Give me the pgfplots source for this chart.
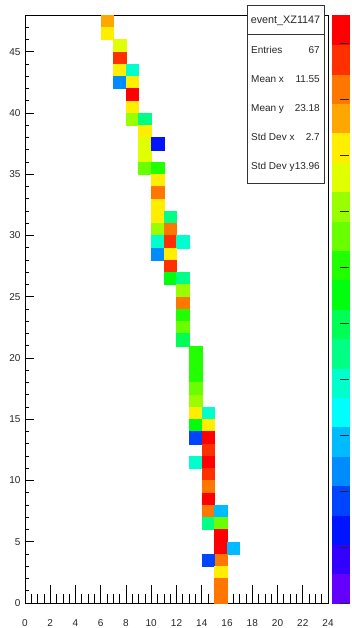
\documentclass[border=0pt]{standalone}
\usepackage{fontspec}
\setmainfont{Liberation Sans}
\usepackage{pgfplots}
\usepackage{pgfplotstable}
\pgfplotsset{compat=1.18}
\pgfdeclareplotmark{bin}{\pgfpathrectangle{\pgfqpoint{-6.3125bp}{-6.125bp}}{\pgfqpoint{12.625bp}{12.25bp}}\pgfusepathqfillstroke}
\pgfdeclareplotmark{band}{\pgfpathrectangle{\pgfqpoint{-8.5bp}{-14.7bp}}{\pgfqpoint{17bp}{29.4bp}}\pgfusepathqfillstroke}
\pgfplotsset{
  colormap={rootpal}{rgb255=(99,0,255) rgb255=(51,0,255) rgb255=(0,20,255) rgb255=(0,68,255) rgb255=(0,139,255) rgb255=(0,187,255) rgb255=(0,255,252) rgb255=(0,255,204) rgb255=(0,255,133) rgb255=(0,255,85) rgb255=(0,255,14) rgb255=(34,255,0) rgb255=(105,255,0) rgb255=(153,255,0) rgb255=(224,255,0) rgb255=(255,238,0) rgb255=(255,167,0) rgb255=(255,119,0) rgb255=(255,48,0) rgb255=(255,0,0)},
}
% bin centre x, bin centre y, colour level k (0 = violet ... 19 = red)
\pgfplotstableread{
x y k
6.5 47.5 16
6.5 46.5 15
7.5 45.5 14
7.5 44.5 18
7.5 43.5 15
8.5 43.5 7
7.5 42.5 4
8.5 42.5 15
8.5 41.5 19
8.5 40.5 15
8.5 39.5 13
9.5 39.5 8
9.5 38.5 15
9.5 37.5 14
9.5 36.5 14
10.5 37.5 2
9.5 35.5 12
10.5 35.5 11
10.5 34.5 15
10.5 33.5 17
10.5 32.5 15
10.5 31.5 15
11.5 31.5 8
10.5 30.5 13
11.5 30.5 17
10.5 29.5 7
11.5 29.5 18
12.5 29.5 7
10.5 28.5 4
11.5 28.5 15
11.5 27.5 18
11.5 26.5 10
12.5 26.5 8
12.5 25.5 13
12.5 24.5 17
12.5 23.5 11
12.5 22.5 12
12.5 21.5 9
13.5 20.5 11
13.5 19.5 11
13.5 18.5 11
13.5 17.5 12
13.5 16.5 13
13.5 15.5 15
14.5 15.5 7
13.5 14.5 10
14.5 14.5 15
13.5 13.5 3
14.5 13.5 19
14.5 12.5 18
13.5 11.5 7
14.5 11.5 19
14.5 10.5 18
14.5 9.5 17
14.5 8.5 19
14.5 7.5 17
15.5 7.5 5
14.5 6.5 8
15.5 6.5 12
15.5 5.5 19
15.5 4.5 19
16.5 4.5 5
15.5 3.5 17
14.5 3.5 3
15.5 2.5 15
15.5 1.5 17
15.5 0.5 17
}\bins
% palette bands: centre z, level k
\pgfplotstableread{
z k
0.2625 0
0.7875 1
1.3125 2
1.8375 3
2.3625 4
2.8875 5
3.4125 6
3.9375 7
4.4625 8
4.9875 9
5.5125 10
6.0375 11
6.5625 12
7.0875 13
7.6125 14
8.1375 15
8.6625 16
9.1875 17
9.7125 18
10.2375 19
}\palette
\begin{document}
\begin{tikzpicture}
\useasboundingbox (-25bp,-25bp) rectangle (327bp,603bp);
% main frame, x ticks, bins
\begin{axis}[
  at={(0,0)}, anchor=south west,
  x=12.625bp, y=12.25bp,
  xmin=0, xmax=24, ymin=0, ymax=48,
  axis line style={black, line width=0.8bp},
  tick pos=left, tick align=inside,
  xtick={0,2,...,24}, minor xtick={0,0.5,...,24},
  ytick=\empty,
  major tick length=17.6bp, minor tick length=8.8bp,
  tick style={black, line width=0.7bp},
  /pgf/number format/assume math mode=true,
  xticklabel style={font=\fontsize{10bp}{12bp}\selectfont, anchor=base, yshift=-23.6bp, text=black!85},
  colormap name=rootpal, point meta min=0, point meta max=19,
]
\addplot[scatter, only marks, mark=bin, mark options={line width=0.3bp},
  point meta=explicit,
  scatter/use mapped color={draw=mapped color, fill=mapped color}]
  table[x=x, y=y, meta=k] {\bins};
\end{axis}
% y ticks (shorter, as ROOT scales tick length to the frame)
\begin{axis}[
  at={(0,0)}, anchor=south west,
  x=12.625bp, y=12.25bp,
  xmin=0, xmax=24, ymin=0, ymax=48,
  axis line style={draw=none},
  tick pos=left, tick align=inside,
  xtick=\empty,
  ytick={0,5,...,45}, minor ytick={0,1,...,48},
  major tick length=9bp, minor tick length=4.5bp,
  tick style={black, line width=0.7bp},
  /pgf/number format/assume math mode=true,
  yticklabel style={font=\fontsize{10bp}{12bp}\selectfont, xshift=-1bp, text=black!85},
]
\addplot[draw=none] coordinates {(0,0)};
\end{axis}
% palette bands
\begin{axis}[
  at={(307bp,0)}, anchor=south west,
  x=17bp, y=56bp,
  xmin=0, xmax=1, ymin=0, ymax=10.5,
  axis line style={draw=none},
  xtick=\empty, ytick=\empty,
  colormap name=rootpal, point meta min=0, point meta max=19,
]
\addplot[scatter, only marks, mark=band, mark options={line width=0.2bp},
  point meta=explicit,
  scatter/use mapped color={draw=mapped color, fill=mapped color}]
  table[x expr=0.5, y=z, meta=k] {\palette};
\end{axis}
% palette ticks on top
\begin{axis}[
  at={(307bp,0)}, anchor=south west,
  x=17bp, y=56bp,
  xmin=0, xmax=1, ymin=0, ymax=10.5,
  axis line style={draw=none},
  xtick=\empty,
  ytick={0,1,...,10}, yticklabels={},
  ytick pos=right, tick align=inside,
  major tick length=9bp,
  tick style={black!85, line width=0.8bp},
]
\addplot[draw=none] coordinates {(0,0)};
\end{axis}
% statistics box
\draw[fill=white, draw=black!80, line width=0.8bp] (222bp,420bp) rectangle (299bp,598bp);
\draw[draw=black!80, line width=0.8bp] (222bp,569bp) -- (299bp,569bp);
\node[anchor=base, inner sep=0pt, text=black!85, font=\fontsize{10.8bp}{13bp}\selectfont] at (260.5bp,579.4bp) {event\_XZ1147};
\begin{scope}[every node/.style={inner sep=0pt, text=black!85, font=\fontsize{10bp}{12bp}\selectfont}]
\node[anchor=base west] at (226bp,549.4bp) {Entries};
\node[anchor=base east] at (295bp,549.4bp) {67};
\node[anchor=base west] at (226bp,520.4bp) {Mean x};
\node[anchor=base east] at (295bp,520.4bp) {11.55};
\node[anchor=base west] at (226bp,491.4bp) {Mean y};
\node[anchor=base east] at (295bp,491.4bp) {23.18};
\node[anchor=base west] at (226bp,462.4bp) {Std Dev x};
\node[anchor=base east] at (295bp,462.4bp) {2.7};
\node[anchor=base west] at (226bp,433.4bp) {Std Dev y};
\node[anchor=base east] at (295bp,433.4bp) {13.96};
\end{scope}
\end{tikzpicture}
\end{document}
